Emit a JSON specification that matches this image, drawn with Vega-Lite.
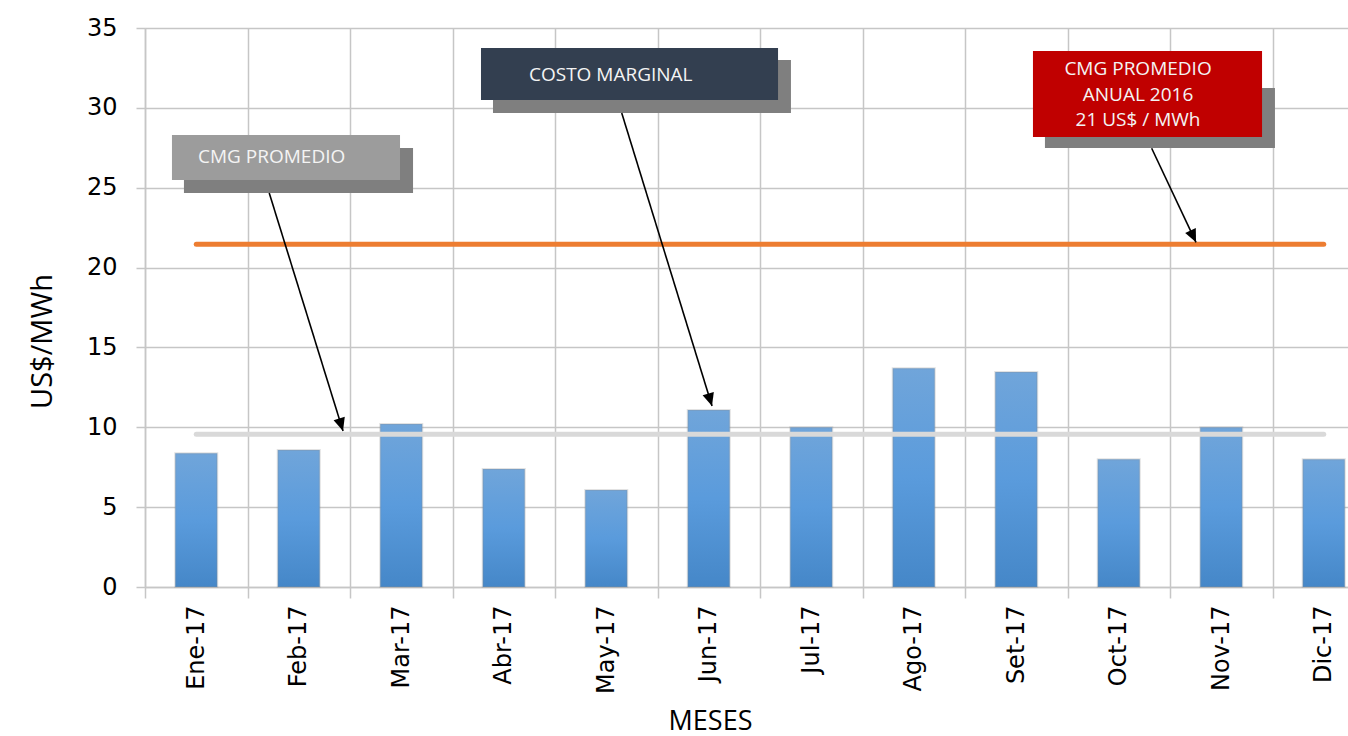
{
  "$schema": "https://vega.github.io/schema/vega-lite/v6.json",
  "width": 1203,
  "height": 559,
  "autosize": "none",
  "padding": {"left": 145, "top": 28, "right": 0, "bottom": 149},
  "background": "white",
  "config": {"view": {"stroke": null}, "font": "DejaVu Sans"},
  "datasets": {
    "meses": [
      {"mes": "Ene-17", "cmg": 8.37, "promedio": 9.57, "anual": 21.46},
      {"mes": "Feb-17", "cmg": 8.58, "promedio": 9.57, "anual": 21.46},
      {"mes": "Mar-17", "cmg": 10.2, "promedio": 9.57, "anual": 21.46},
      {"mes": "Abr-17", "cmg": 7.39, "promedio": 9.57, "anual": 21.46},
      {"mes": "May-17", "cmg": 6.07, "promedio": 9.57, "anual": 21.46},
      {"mes": "Jun-17", "cmg": 11.08, "promedio": 9.57, "anual": 21.46},
      {"mes": "Jul-17", "cmg": 10.0, "promedio": 9.57, "anual": 21.46},
      {"mes": "Ago-17", "cmg": 13.69, "promedio": 9.57, "anual": 21.46},
      {"mes": "Set-17", "cmg": 13.46, "promedio": 9.57, "anual": 21.46},
      {"mes": "Oct-17", "cmg": 8.0, "promedio": 9.57, "anual": 21.46},
      {"mes": "Nov-17", "cmg": 10.0, "promedio": 9.57, "anual": 21.46},
      {"mes": "Dic-17", "cmg": 8.0, "promedio": 9.57, "anual": 21.46}
    ],
    "cajas": [
      {"caja": "s1", "x": 0.380, "x2": 2.615, "y": 27.49, "y2": 24.67},
      {"caja": "c1", "x": 0.263, "x2": 2.488, "y": 28.30, "y2": 25.48},
      {"caja": "s2", "x": 3.395, "x2": 6.302, "y": 33.0, "y2": 29.68},
      {"caja": "c2", "x": 3.278, "x2": 6.176, "y": 33.75, "y2": 30.49},
      {"caja": "s3", "x": 8.780, "x2": 11.024, "y": 31.24, "y2": 27.49},
      {"caja": "c3", "x": 8.663, "x2": 10.898, "y": 33.56, "y2": 28.18}
    ],
    "flechas": [
      {"flecha": "A1", "x": 1.212, "y": 24.67, "x2": 1.932, "y2": 9.77},
      {"flecha": "A2", "x": 4.651, "y": 29.68, "x2": 5.532, "y2": 11.33},
      {"flecha": "A3", "x": 9.821, "y": 27.47, "x2": 10.254, "y2": 21.58}
    ],
    "textos_izq": [
      {"texto": "CMG PROMEDIO", "x": 0.517, "y": 26.91},
      {"texto": "COSTO MARGINAL", "x": 3.746, "y": 32.06}
    ],
    "textos_centro": [
      {"texto": "CMG PROMEDIO", "x": 9.688, "y": 32.42},
      {"texto": "ANUAL 2016", "x": 9.688, "y": 30.81},
      {"texto": "21 US$ / MWh", "x": 9.688, "y": 29.24}
    ]
  },
  "layer": [
    {
      "data": {"name": "meses"},
      "mark": {
        "type": "bar",
        "width": {"band": 0.41},
        "fill": {
          "gradient": "linear", "x1": 0, "y1": 0, "x2": 0, "y2": 1,
          "stops": [
            {"offset": 0, "color": "#70a5da"},
            {"offset": 0.5, "color": "#5a9bdc"},
            {"offset": 1, "color": "#4587c8"}
          ]
        },
        "stroke": "#8a8a8a",
        "strokeOpacity": 0.25,
        "strokeWidth": 2
      },
      "encoding": {
        "x": {
          "field": "mes", "type": "nominal", "sort": null,
          "scale": {"range": [0, 1230], "paddingInner": 0, "paddingOuter": 0},
          "axis": {
            "title": "MESES",
            "orient": "bottom",
            "labelAngle": -90,
            "labelFont": "DejaVu Sans",
            "labelFontSize": 24,
            "labelColor": "#000000",
            "labelPadding": 7,
            "tickBand": "extent",
            "grid": true,
            "gridColor": "#c6c6c6",
            "gridWidth": 1.5,
            "ticks": true,
            "tickColor": "#c6c6c6",
            "tickSize": 11,
            "tickWidth": 1.5,
            "domainColor": "#c6c6c6",
            "domainWidth": 1.5,
            "titleFont": "Open Sans",
            "titleFontSize": 27,
            "titleFontWeight": "normal",
            "titleColor": "#000000",
            "titleX": 565,
            "titleY": 142,
            "titleAlign": "center",
            "titleBaseline": "alphabetic"
          }
        },
        "y": {
          "field": "cmg", "type": "quantitative",
          "scale": {"domain": [0, 35], "nice": false},
          "axis": {
            "title": "US$/MWh",
            "values": [0, 5, 10, 15, 20, 25, 30, 35],
            "labelFont": "DejaVu Sans",
            "labelFontSize": 24,
            "labelColor": "#000000",
            "labelPadding": 19,
            "grid": true,
            "gridColor": "#c6c6c6",
            "gridWidth": 1.5,
            "tickColor": "#c6c6c6",
            "tickSize": 9,
            "tickWidth": 1.5,
            "domainColor": "#c6c6c6",
            "domainWidth": 1.5,
            "titleFont": "Open Sans",
            "titleFontSize": 29,
            "titleFontWeight": "normal",
            "titleColor": "#000000",
            "titleAngle": 270,
            "titleX": -103,
            "titleY": 313,
            "titleAlign": "center",
            "titleBaseline": "middle"
          }
        }
      }
    },
    {
      "data": {"name": "meses"},
      "mark": {"type": "line", "color": "#d9d9d9", "strokeWidth": 5, "strokeCap": "round"},
      "encoding": {
        "x": {"field": "mes", "type": "nominal", "sort": null,
          "scale": {"range": [0, 1230], "paddingInner": 0, "paddingOuter": 0},
          "axis": {"domain": false, "ticks": false, "labels": false, "grid": false, "title": null}},
        "y": {"field": "promedio", "type": "quantitative"}
      }
    },
    {
      "data": {"name": "meses"},
      "mark": {"type": "line", "color": "#ed7d31", "strokeWidth": 5, "strokeCap": "round"},
      "encoding": {
        "x": {"field": "mes", "type": "nominal", "sort": null,
          "scale": {"range": [0, 1230], "paddingInner": 0, "paddingOuter": 0},
          "axis": {"domain": false, "ticks": false, "labels": false, "grid": false, "title": null}},
        "y": {"field": "anual", "type": "quantitative"}
      }
    },
    {
      "data": {"name": "cajas"},
      "mark": {"type": "rect"},
      "encoding": {
        "x": {"field": "x", "type": "quantitative", "scale": {"domain": [0, 12], "range": [0, 1230], "nice": false, "zero": false},
          "axis": {"domain": false, "ticks": false, "labels": false, "grid": false, "title": null}},
        "x2": {"field": "x2"},
        "y": {"field": "y", "type": "quantitative"},
        "y2": {"field": "y2"},
        "color": {
          "field": "caja", "type": "nominal", "legend": null,
          "scale": {
            "domain": ["s1", "c1", "s2", "c2", "s3", "c3"],
            "range": ["#7f7f7f", "#9c9c9c", "#7f7f7f", "#333f50", "#7f7f7f", "#c00000"]
          }
        }
      }
    },
    {
      "data": {"name": "flechas"},
      "mark": {"type": "rule", "color": "#000000", "strokeWidth": 1.6},
      "encoding": {
        "x": {"field": "x", "type": "quantitative", "scale": {"domain": [0, 12], "range": [0, 1230], "nice": false, "zero": false},
          "axis": {"domain": false, "ticks": false, "labels": false, "grid": false, "title": null}},
        "x2": {"field": "x2"},
        "y": {"field": "y", "type": "quantitative"},
        "y2": {"field": "y2"}
      }
    },
    {
      "data": {"name": "flechas"},
      "transform": [{"filter": "datum.flecha == 'A1'"}],
      "mark": {"type": "point", "shape": "M0,0L-0.45,1L0.45,1Z", "filled": true, "color": "#000000", "opacity": 1, "size": 676, "angle": 162.8},
      "encoding": {
        "x": {"field": "x2", "type": "quantitative", "scale": {"domain": [0, 12], "range": [0, 1230], "nice": false, "zero": false},
          "axis": {"domain": false, "ticks": false, "labels": false, "grid": false, "title": null}},
        "y": {"field": "y2", "type": "quantitative"}
      }
    },
    {
      "data": {"name": "flechas"},
      "transform": [{"filter": "datum.flecha == 'A2'"}],
      "mark": {"type": "point", "shape": "M0,0L-0.45,1L0.45,1Z", "filled": true, "color": "#000000", "opacity": 1, "size": 676, "angle": 162.9},
      "encoding": {
        "x": {"field": "x2", "type": "quantitative", "scale": {"domain": [0, 12], "range": [0, 1230], "nice": false, "zero": false},
          "axis": {"domain": false, "ticks": false, "labels": false, "grid": false, "title": null}},
        "y": {"field": "y2", "type": "quantitative"}
      }
    },
    {
      "data": {"name": "flechas"},
      "transform": [{"filter": "datum.flecha == 'A3'"}],
      "mark": {"type": "point", "shape": "M0,0L-0.45,1L0.45,1Z", "filled": true, "color": "#000000", "opacity": 1, "size": 676, "angle": 154.8},
      "encoding": {
        "x": {"field": "x2", "type": "quantitative", "scale": {"domain": [0, 12], "range": [0, 1230], "nice": false, "zero": false},
          "axis": {"domain": false, "ticks": false, "labels": false, "grid": false, "title": null}},
        "y": {"field": "y2", "type": "quantitative"}
      }
    },
    {
      "data": {"name": "textos_izq"},
      "mark": {"type": "text", "align": "left", "baseline": "middle", "font": "Open Sans", "fontSize": 19, "color": "#f4f4f4"},
      "encoding": {
        "x": {"field": "x", "type": "quantitative", "scale": {"domain": [0, 12], "range": [0, 1230], "nice": false, "zero": false},
          "axis": {"domain": false, "ticks": false, "labels": false, "grid": false, "title": null}},
        "y": {"field": "y", "type": "quantitative"},
        "text": {"field": "texto"}
      }
    },
    {
      "data": {"name": "textos_centro"},
      "mark": {"type": "text", "align": "center", "baseline": "middle", "font": "Open Sans", "fontSize": 19, "color": "#f4f4f4"},
      "encoding": {
        "x": {"field": "x", "type": "quantitative", "scale": {"domain": [0, 12], "range": [0, 1230], "nice": false, "zero": false},
          "axis": {"domain": false, "ticks": false, "labels": false, "grid": false, "title": null}},
        "y": {"field": "y", "type": "quantitative"},
        "text": {"field": "texto"}
      }
    }
  ],
  "resolve": {"scale": {"x": "independent"}}
}
